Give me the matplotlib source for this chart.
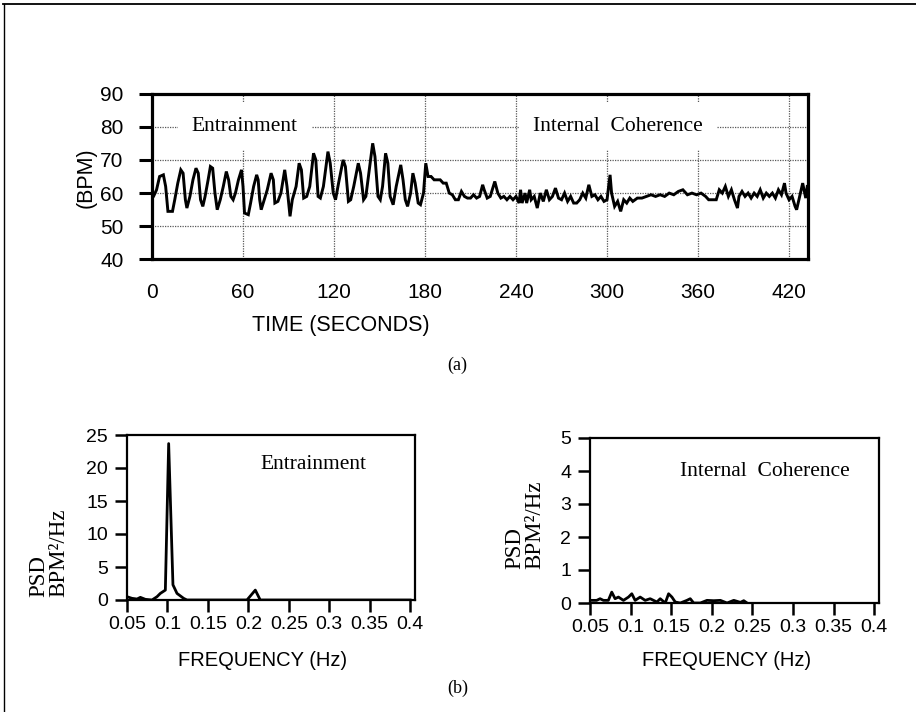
import matplotlib
matplotlib.use("Agg")
import matplotlib.pyplot as plt
from matplotlib.lines import Line2D

plt.rcParams['font.family'] = ['Liberation Sans', 'DejaVu Sans']
SERIF = ['Liberation Serif', 'DejaVu Serif']

# ---------------- data ----------------
# Heart rate (BPM) vs time (seconds) -- vertices
hr_time = [0, 1, 3, 5, 7.5, 9, 10.5, 13.5, 15, 17, 19, 20.5, 22, 23, 25, 27, 29, 30.5, 32, 33.5,
           35, 37, 38.5, 40, 41.5, 43, 45, 47, 49, 50.5, 52, 53.5, 55, 57, 59, 60, 61, 63.5, 65, 67,
           69, 70, 71, 72, 74, 76, 78.5, 80, 81, 83, 85, 87.5, 89, 91, 92.5, 95, 97, 98.5, 100, 102,
           104, 106.5, 108, 109.5, 111, 113, 116, 117.5, 119.5, 121, 123, 126, 127.5, 129.5, 131, 133,
           136, 137.5, 139.5, 141, 143, 145.5, 147, 149, 150.5, 152, 154, 155.5, 157, 159, 161, 164,
           165.5, 167, 168.5, 170.5, 172, 173.5, 175.5, 177, 179, 180.5,
           182, 184, 186, 190, 192, 194, 196, 198, 200, 202, 204, 206, 208, 210, 212, 214, 216, 218,
           219, 221, 223, 226, 228, 230, 232, 234, 236, 238, 240, 242, 243, 244, 246, 247, 249, 250,
           252, 254, 256, 258, 260, 262, 264, 266, 268, 270, 272, 274, 276, 278, 280, 282, 284, 286,
           288, 290, 292, 294, 296, 298, 300, 302, 303, 305, 307, 309, 311, 313, 315, 317, 320, 323,
           326, 329, 332, 335, 338, 341, 344, 347, 350, 353, 356, 359, 362, 365, 367, 370, 372, 374,
           376, 378, 380, 382, 384, 386, 387, 389, 391, 393, 395, 397, 399, 401, 403, 405, 407, 409,
           411, 413, 415, 417, 418, 420, 422, 424, 425, 427, 429, 431, 432]
hr_bpm = [58.5, 59, 61, 65, 65.5, 62, 54.5, 54.5, 58, 63, 67, 66, 58, 55.5, 59, 64, 67.5, 66, 58, 56,
          59, 64, 68, 67.5, 60, 55, 58, 62, 66.5, 64, 59, 58, 60, 64, 67, 62, 54, 53.5, 57, 62,
          65.5, 64, 58, 55, 58, 61, 66, 64, 57, 57.5, 60, 67, 62, 53, 58, 62, 69, 67, 58.5, 59,
          62, 72, 70, 59, 58.5, 62, 72.5, 69, 60, 58, 63, 70, 68, 57.5, 58, 62,
          69, 66, 58, 59, 66, 75, 71, 59, 58, 62, 72, 69, 59, 56.5, 62, 68.5,
          64, 58, 56, 60, 66, 63, 57, 56.5, 60, 69,
          65, 65, 64, 64, 63, 63, 60, 59.5, 58, 58, 60.5, 59, 58.5, 58.5, 59.5, 58.5, 59, 62.5,
          61, 58.5, 59, 63.5, 60, 58.5, 59, 58, 59, 58, 59, 57, 61, 57, 60, 57, 61, 58,
          59, 55.5, 60, 57.5, 61, 58, 59, 61.5, 58.5, 58, 60, 57.5, 59, 57, 57, 58, 60, 58.5,
          62.5, 59, 59.5, 58, 59, 57.5, 58, 65.5, 60, 56, 57.5, 54.5, 58, 57, 58.5, 57.5, 58.5, 58.5,
          59, 59.5, 59, 59.5, 59, 60, 59.5, 60.5, 61, 59.5, 60, 59.5, 60, 59, 58, 58, 58, 61,
          60, 62, 59, 61, 58, 55.5, 59, 60.5, 59, 60, 58.5, 60, 59, 61, 58.5, 60, 59, 60,
          58.5, 61, 59.5, 63, 60, 58, 59, 56, 55, 59, 63, 58.5, 62]

time_ticks = [0, 60, 120, 180, 240, 300, 360, 420]
bpm_ticks = [40, 50, 60, 70, 80, 90]

# PSD spectra (BPM^2/Hz vs Hz)
ent_freq = [0.05, 0.0562, 0.0624, 0.0665, 0.0727, 0.0809, 0.0871, 0.0912, 0.0974, 0.1015,
            0.1068, 0.1118, 0.12, 0.1241, 0.1983, 0.2086, 0.2147, 0.4]
ent_psd = [0.5, 0.25, 0.15, 0.4, 0.1, 0.0, 0.5, 1.0, 1.5, 23.7,
           2.3, 1.0, 0.25, 0.0, 0.0, 1.5, 0.0, 0.0]

coh_freq = [0.05, 0.0582, 0.0624, 0.0665, 0.0726, 0.0768, 0.0809, 0.085, 0.0912, 0.0974,
            0.1015, 0.1056, 0.1118, 0.118, 0.1241, 0.1324, 0.1365, 0.1427, 0.1468, 0.1509,
            0.155, 0.1612, 0.1694, 0.1735, 0.1777, 0.1859, 0.1941, 0.2024, 0.2106, 0.2188,
            0.2271, 0.2353, 0.2394, 0.2435]
coh_psd = [0.08, 0.08, 0.13, 0.08, 0.08, 0.33, 0.13, 0.18, 0.08, 0.18,
           0.28, 0.08, 0.18, 0.08, 0.13, 0.03, 0.13, 0.0, 0.28, 0.18,
           0.03, 0.0, 0.08, 0.13, 0.0, 0.0, 0.08, 0.07, 0.08, 0.0,
           0.08, 0.02, 0.07, 0.0]

freq_ticks = [0.05, 0.1, 0.15, 0.2, 0.25, 0.3, 0.35, 0.4]
freq_labels = ['0.05', '0.1', '0.15', '0.2', '0.25', '0.3', '0.35', '0.4']
ent_yticks = [0, 5, 10, 15, 20, 25]
coh_yticks = [0, 1, 2, 3, 4, 5]

# ---------------- figure ----------------
W, H = 916, 712
fig = plt.figure(figsize=(W / 100, H / 100), dpi=100)
fig.patch.set_facecolor('white')

def fx(px):
    return px / W

def fy(py):
    return 1 - py / H

# page border (top and left)
fig.add_artist(Line2D([fx(3), 1], [fy(3.5), fy(3.5)], color='black', lw=1.3))
fig.add_artist(Line2D([fx(3.5), fx(3.5)], [0, fy(3.5)], color='black', lw=1.0))

# ---- top chart ----
ax = fig.add_axes([fx(152), fy(259.5), fx(808) - fx(152), fy(93.5) - fy(259.5)])
ax.set_xlim(0, 432.5)
ax.set_ylim(40, 90)
gridkw = dict(color='0.35', lw=0.9, ls=(0, (1, 1)), zorder=1)
for t in time_ticks[1:]:
    ax.axvline(t, **gridkw)
for b in bpm_ticks[1:-1]:
    ax.axhline(b, **gridkw)
ax.plot(hr_time, hr_bpm, color='black', lw=2.1, zorder=3, solid_joinstyle='miter')
ax.set_xticks(time_ticks)
ax.set_yticks(bpm_ticks)
ax.tick_params(axis='x', length=0, pad=17, labelsize=15)
ax.tick_params(axis='y', length=9.5, width=2.2, pad=11, labelsize=15, direction='out')
for s in ax.spines.values():
    s.set_linewidth(2.3)
boxkw = dict(facecolor='white', edgecolor='none', pad=10)
ax.text(61, 80, 'Entrainment', family=SERIF, fontsize=15.5, ha='center', va='center',
        bbox=boxkw, zorder=2)
ax.text(307, 80, 'Internal  Coherence', family=SERIF, fontsize=15.5, ha='center', va='center',
        bbox=boxkw, zorder=2)

fig.text(fx(341), fy(325), 'TIME (SECONDS)', fontsize=15.5, ha='center', va='center')
fig.text(fx(86), fy(178), '(BPM)', fontsize=15.5, ha='center', va='center', rotation=90)
fig.text(fx(457), fy(365), '(a)', family=SERIF, fontsize=13, ha='center', va='center')

# ---- bottom charts ----
def psd_axes(rect, freq, psd, yticks, ymax, label, lx, ly):
    a = fig.add_axes(rect)
    a.plot(freq, psd, color='black', lw=2.0, zorder=3)
    a.set_xlim(0.05, 0.406)
    a.set_ylim(0, ymax)
    a.set_xticks(freq_ticks)
    a.set_xticklabels(freq_labels)
    a.set_yticks(yticks)
    a.tick_params(axis='both', length=8.5, width=1.8, labelsize=14, direction='out')
    a.tick_params(axis='x', pad=3)
    a.tick_params(axis='y', pad=5)
    for s in a.spines.values():
        s.set_linewidth(1.6)
    a.text(lx, ly, label, family=SERIF, fontsize=15.5, ha='center', va='center')
    return a

axl = psd_axes([fx(127), fy(600), fx(415) - fx(127), fy(435) - fy(600)],
               ent_freq, ent_psd, ent_yticks, 25, 'Entrainment', 0.28, 20.5)
axr = psd_axes([fx(590), fy(603), fx(879) - fx(590), fy(438) - fy(603)],
               coh_freq, coh_psd, coh_yticks, 5, 'Internal  Coherence', 0.266, 4.0)

fig.text(fx(49), fy(597), 'PSD\nBPM\u00b2/Hz', family=SERIF, fontsize=16.5, rotation=90,
         ha='center', va='bottom', multialignment='left', linespacing=0.95)
fig.text(fx(524.5), fy(569), 'PSD\nBPM\u00b2/Hz', family=SERIF, fontsize=16.5, rotation=90,
         ha='center', va='bottom', multialignment='left', linespacing=0.95)

fig.text(fx(263), fy(660), 'FREQUENCY (Hz)', fontsize=14.5, ha='center', va='center')
fig.text(fx(727), fy(661), 'FREQUENCY (Hz)', fontsize=14.5, ha='center', va='center')
fig.text(fx(458), fy(688), '(b)', family=SERIF, fontsize=13, ha='center', va='center')

fig.savefig('out.png', dpi=100, facecolor='white')
